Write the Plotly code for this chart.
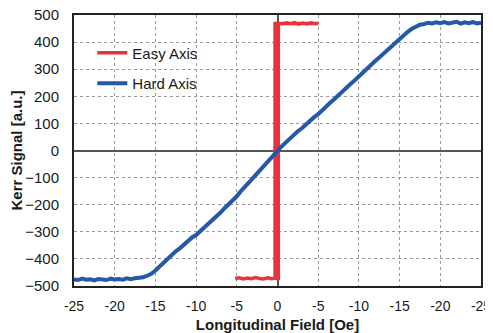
import plotly.graph_objects as go

# Hard axis (blue)
hard_x = [-25, -24.5, -24, -23.5, -23, -22.5, -22, -21.5, -21, -20.5, -20, -19.5, -19, -18.5, -18,
          -17.5, -17, -16.5, -16, -15.5, -15, -14.5, -14, -13.5, -13, -12.5, -12, -11.5, -11, -10.5,
          -10, -9.5, -9, -8.5, -8, -7.5, -7, -6.5, -6, -5.5, -5, -4.5, -4, -3.5, -3, -2.5, -2, -1.5,
          -1, -0.5, 0, 0.5, 1, 1.5, 2, 2.5, 3, 3.5, 4, 4.5, 5, 5.5, 6, 6.5, 7, 7.5, 8, 8.5, 9, 9.5,
          10, 10.5, 11, 11.5, 12, 12.5, 13, 13.5, 14, 14.5, 15, 15.5, 16, 16.5, 17, 17.5, 18, 18.5,
          19, 19.5, 20, 20.5, 21, 21.5, 22, 22.5, 23, 23.5, 24, 24.5, 25]
hard_y = [-476, -478, -473, -477, -475, -479, -474, -476, -478, -473, -476, -474, -477, -472, -475,
          -471, -470, -468, -462, -455, -443, -428, -414, -399, -387, -372, -361, -346, -335, -321,
          -312, -296, -284, -270, -257, -241, -229, -213, -199, -184, -169, -150, -136, -118, -101, -84, -67, -48,
          -33, -14, 1, 15, 29, 44, 56, 71, 82, 97, 108, 123, 134, 150, 162, 177, 190, 205, 218, 230, 246, 259,
          274, 287, 301, 317, 330, 343, 357, 372, 385, 398, 411, 425, 438, 449, 458, 464, 467, 471,
          469, 473, 470, 474, 469, 472, 475, 468, 473, 470, 474, 469, 472]

# Easy axis (red) hysteresis loop
easy_x = [-5.2, -4.7, -4.2, -3.7, -3.2, -2.7, -2.2, -1.7, -1.2, -0.7, -0.2, 0.1,
          0.1, 0.1, 0.6, 1.1, 1.6, 2.1, 2.6, 3.1, 3.6, 4.1, 4.6, 5.0,
          -0.3, -0.3]
easy_y = [-472, -470, -474, -471, -473, -469, -472, -474, -470, -473, -471, -472,
          0, 470, 467, 471, 468, 472, 466, 470, 467, 471, 468, 469,
          469, -471]

tick_vals = [-25, -20, -15, -10, -5, 0, 5, 10, 15, 20, 25]
tick_text = ["-25", "-20", "-15", "-10", "-5", "0", "-5", "-10", "-15", "-20", "-25"]
y_ticks = [-500, -400, -300, -200, -100, 0, 100, 200, 300, 400, 500]

fig = go.Figure()
fig.add_trace(go.Scatter(x=easy_x, y=easy_y, mode="lines", name="Easy Axis",
                         line=dict(color="#e8333c", width=3.5), legendgroup="a"))
fig.add_trace(go.Scatter(x=hard_x, y=hard_y, mode="lines", name="Hard Axis",
                         line=dict(color="#2558a8", width=4), legendgroup="b"))

font_family = "Liberation Sans, Arial, sans-serif"
# page body has an 8px default margin, so the figure is sized to fill the remaining window
fig.update_layout(
    width=485, height=325,
    margin=dict(l=66, r=12, t=7, b=47, autoexpand=False),
    paper_bgcolor="white", plot_bgcolor="white",
    font=dict(family=font_family, size=15, color="#1a1a1a"),
    legend=dict(x=0.045, y=0.921, xanchor="left", yanchor="top",
                bgcolor="rgba(255,255,255,0)", font=dict(size=15),
                traceorder="grouped", tracegroupgap=8),
    showlegend=True,
)
fig.update_xaxes(
    range=[-25, 25], tickvals=tick_vals, ticktext=tick_text, automargin=False,
    ticklabeloverflow="allow", tickfont=dict(size=14),
    showgrid=True, gridcolor="#9a9a9a", griddash="dot", gridwidth=1,
    zeroline=True, zerolinecolor="#555555", zerolinewidth=2,
    showline=True, linecolor="#222222", linewidth=2, mirror=True,
    ticks="outside", ticklen=6, tickcolor="rgba(0,0,0,0)",
    title=dict(text="<b>Longitudinal Field [Oe]</b>", font=dict(size=15), standoff=9),
)
fig.update_yaxes(
    range=[-500, 500], tickvals=y_ticks, automargin=False,
    ticklabeloverflow="allow",
    showgrid=True, gridcolor="#9a9a9a", griddash="dot", gridwidth=1,
    zeroline=True, zerolinecolor="#555555", zerolinewidth=2,
    showline=True, linecolor="#222222", linewidth=2, mirror=True,
    ticks="outside", ticklen=10, tickcolor="rgba(0,0,0,0)",
    title=dict(text="<b>Kerr Signal [a.u.]</b>", font=dict(size=15), standoff=6),
)

fig.write_html("out.html")
